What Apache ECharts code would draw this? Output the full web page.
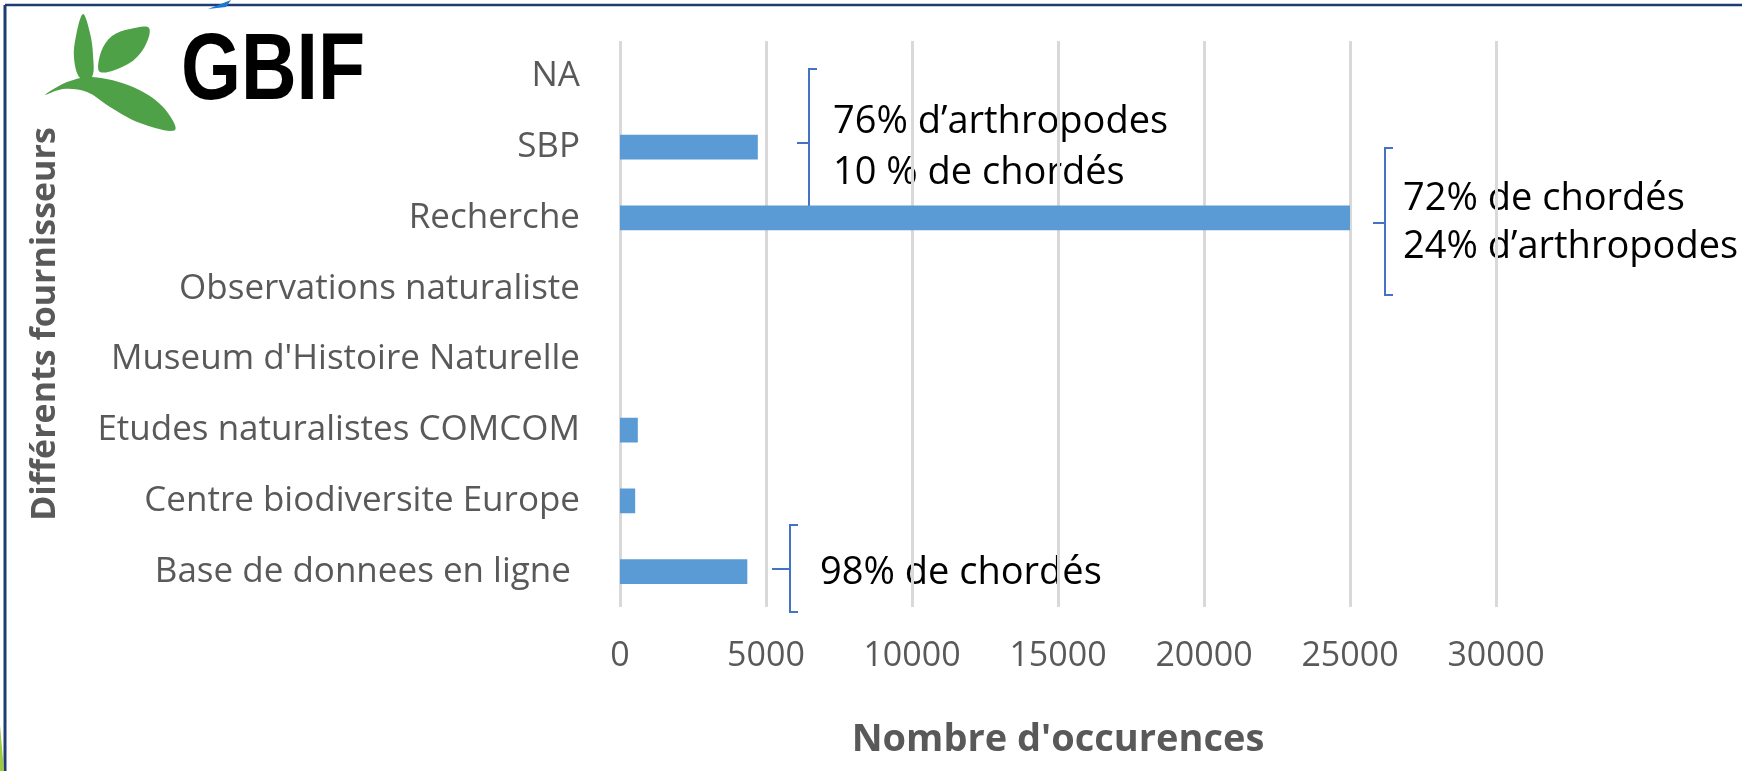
<!DOCTYPE html>
<html>
<head>
<meta charset="utf-8">
<script src="https://cdn.jsdelivr.net/npm/echarts@6/dist/echarts.min.js"></script>
<style>
  html, body { margin: 0; padding: 0; background: #fff; }
  #chart { width: 1742px; height: 771px; }
</style>
</head>
<body>
<div id="chart"></div>
<script>
const providers = [
  "NA",
  "SBP",
  "Recherche",
  "Observations naturaliste",
  "Museum d'Histoire Naturelle",
  "Etudes naturalistes COMCOM",
  "Centre biodiversite Europe",
  "Base de donnees en ligne "
];
const occurrences = [0, 4720, 25000, 0, 0, 610, 520, 4360];
const xTicks = [0, 5000, 10000, 15000, 20000, 25000, 30000];

const notes = [
  { lines: ["76% d\u2019arthropodes", "10 % de chordés"], x: 833, y: [122, 173] },
  { lines: ["72% de chordés", "24% d\u2019arthropodes"], x: 1403, y: [199, 247] },
  { lines: ["98% de chordés"], x: 820, y: [573] }
];

const FONT = "'Open Sans', sans-serif";
const BRACE = "#4472c4";
const LEAF = "#4ea146";

const chart = echarts.init(document.getElementById("chart"), null, { renderer: "canvas" });

function brace(x, top, bottom, mid, tickX) {
  return [
    {
      type: "polyline",
      shape: { points: [[x + 8, top], [x, top], [x, bottom], [x + 8, bottom]] },
      style: { stroke: BRACE, lineWidth: 2, fill: null }
    },
    {
      type: "line",
      shape: { x1: tickX, y1: mid, x2: x, y2: mid },
      style: { stroke: BRACE, lineWidth: 2 }
    }
  ];
}

const noteTexts = [];
notes.forEach((n) => {
  n.lines.forEach((l, i) => {
    noteTexts.push({
      type: "text",
      x: n.x,
      y: n.y[i],
      style: {
        text: l,
        font: "38px " + FONT,
        fill: "#000",
        textVerticalAlign: "middle"
      }
    });
  });
});

const option = {
  animation: false,
  backgroundColor: "#fff",
  grid: { left: 620, top: 41, width: 876, height: 566, outerBoundsMode: "none" },
  xAxis: {
    type: "value",
    min: xTicks[0],
    max: xTicks[xTicks.length - 1],
    interval: xTicks[1] - xTicks[0],
    axisLine: { show: false },
    axisTick: { show: false },
    splitLine: { lineStyle: { color: "#d9d9d9", width: 3 } },
    axisLabel: {
      color: "#595959", fontSize: 34, fontFamily: FONT, margin: 32,
      formatter: (v) => String(v)
    },
    name: "Nombre d'occurences",
    nameLocation: "middle",
    nameGap: 114,
    nameTextStyle: { color: "#595959", fontSize: 38, fontWeight: "bold", fontFamily: FONT }
  },
  yAxis: {
    type: "category",
    inverse: true,
    data: providers,
    axisLine: { show: false },
    axisTick: { show: false },
    axisLabel: { color: "#595959", fontSize: 35, fontFamily: FONT, margin: 40 },
    name: "Différents fournisseurs",
    nameLocation: "middle",
    nameRotate: 90,
    nameGap: 558,
    nameTextStyle: { color: "#595959", fontSize: 34, fontWeight: "bold", fontFamily: FONT }
  },
  series: [
    {
      type: "bar",
      data: occurrences,
      barCategoryGap: "65%",
      itemStyle: { color: "#5b9bd5" }
    }
  ],
  graphic: [
    // frame
    { type: "line", shape: { x1: 5, y1: 5, x2: 1742, y2: 5 }, style: { stroke: "#1f3b73", lineWidth: 2.5 } },
    { type: "line", shape: { x1: 5, y1: 5, x2: 5, y2: 771 }, style: { stroke: "#1f3b73", lineWidth: 3 } },
    { type: "polygon", shape: { points: [[208, 9], [231, 0], [226, 7]] }, style: { fill: "#1a78d2" } },
    { type: "polygon", shape: { points: [[0, 725], [4, 771], [0, 771]] }, style: { fill: "#9ccb3b" } },
    // GBIF logo
    {
      type: "polygon",
      shape: { points: [[83, 14], [76, 36], [74, 58], [80, 78], [92, 77], [93, 55], [90, 33]], smooth: 0.35 },
      style: { fill: LEAF }
    },
    {
      type: "polygon",
      shape: { points: [[100, 72], [101, 52], [112, 36], [130, 29], [149, 28], [144, 48], [128, 64]], smooth: 0.35 },
      style: { fill: LEAF }
    },
    {
      type: "polygon",
      shape: {
        points: [[45, 95], [67, 82], [92, 77], [133, 87], [163, 107], [175, 130], [140, 123], [110, 107], [87, 92], [63, 89]],
        smooth: 0.35
      },
      style: { fill: LEAF }
    },
    {
      type: "text", x: 181, y: 73, scaleX: 0.82,
      style: { text: "GBIF", font: "bold 94px 'Liberation Sans', sans-serif", fill: "#000", textVerticalAlign: "middle" }
    },
    // braces
    ...brace(809, 69, 217, 143, 797),
    ...brace(1385, 148, 295, 223, 1373),
    ...brace(790, 525, 612, 569, 772),
    ...noteTexts
  ]
};

chart.setOption(option);
</script>
</body>
</html>
